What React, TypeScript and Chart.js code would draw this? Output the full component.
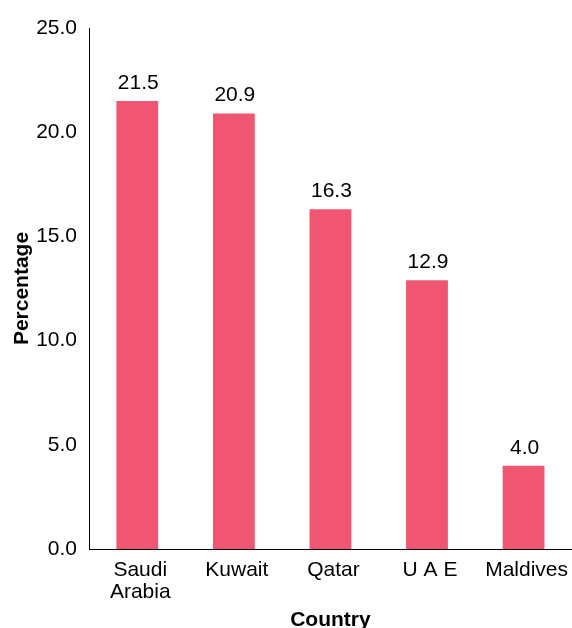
import React, { useEffect, useRef } from "react";
import { Chart, registerables } from "chart.js";

Chart.register(...registerables);

const categories: (string | string[])[] = [["Saudi", "Arabia"], "Kuwait", "Qatar", "U A E", "Maldives"];
const values: number[] = [21.5, 20.9, 16.3, 12.9, 4.0];
const yMin = 0;
const yMax = 25;
const yStep = 5;

const FONT = "'Liberation Sans', Arial, Helvetica, sans-serif";

const valueLabels = {
  id: "valueLabels",
  afterDatasetsDraw(chart: any) {
    const ctx = chart.ctx;
    const meta = chart.getDatasetMeta(0);
    ctx.save();
    ctx.font = `21px ${FONT}`;
    ctx.fillStyle = "#000";
    ctx.textAlign = "center";
    ctx.textBaseline = "alphabetic";
    meta.data.forEach((bar: any, i: number) => {
      ctx.fillText(values[i].toFixed(1), bar.x + 1, bar.y - 12);
    });
    ctx.restore();
  },
};

export default function App() {
  const ref = useRef<HTMLCanvasElement | null>(null);
  useEffect(() => {
    document.body.style.margin = "0";
    if (!ref.current) return;
    const chart = new Chart(ref.current, {
      type: "bar",
      data: {
        labels: categories,
        datasets: [
          {
            data: values,
            backgroundColor: "#F05672",
            borderWidth: 0,
            barPercentage: 0.433,
            categoryPercentage: 1,
          },
        ],
      },
      options: {
        animation: false,
        responsive: false,
        maintainAspectRatio: false,
        layout: { padding: { top: 28, right: 0, left: 0, bottom: 0 } },
        plugins: { legend: { display: false }, tooltip: { enabled: false } },
        scales: {
          x: {
            grid: { display: false, drawTicks: false },
            border: { display: true, color: "#000", width: 1 },
            ticks: {
              color: "#000",
              font: { family: FONT, size: 21, lineHeight: 1.05 },
              padding: 10,
              labelOffset: 3,
              maxRotation: 0,
              autoSkip: false,
            },
            title: {
              display: true,
              text: "Country",
              color: "#000",
              font: { family: FONT, size: 21, weight: "bold" },
              padding: { top: 4, bottom: 7 },
            },
            afterFit(scale: any) {
              scale.height = 91;
            },
          },
          y: {
            min: yMin,
            max: yMax,
            grid: { display: false, drawTicks: false },
            border: { display: true, color: "#000", width: 1 },
            ticks: {
              stepSize: yStep,
              color: "#000",
              font: { family: FONT, size: 21 },
              padding: 12,
              callback: (v: any) => Number(v).toFixed(1),
            },
            title: {
              display: true,
              text: "Percentage",
              color: "#000",
              font: { family: FONT, size: 21, weight: "bold" },
              padding: { top: 10, bottom: 0 },
            },
            afterFit(scale: any) {
              scale.width = 89;
            },
          },
        },
      },
      plugins: [valueLabels],
    });
    return () => chart.destroy();
  }, []);
  return (
    <div style={{ width: 572, height: 628, overflow: "hidden", background: "#fff" }}>
      <canvas ref={ref} width={575} height={640} style={{ display: "block", width: 575, height: 640 }} />
    </div>
  );
}
